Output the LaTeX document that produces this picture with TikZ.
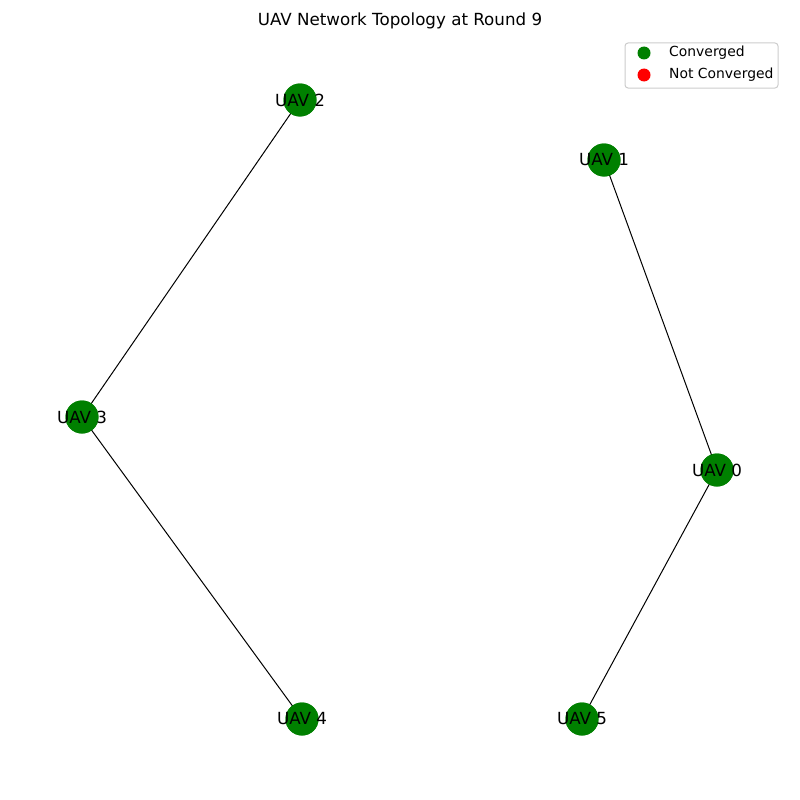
\documentclass[tikz,border=0pt]{standalone}
\usepackage{fontspec}
\setmainfont{DejaVu Sans}
\definecolor{nodegreen}{RGB}{0,128,0}
\definecolor{nodered}{RGB}{255,0,0}
\begin{document}
\begin{tikzpicture}[x=1pt,y=-1pt,
  uav/.style={circle,fill=nodegreen,minimum size=33pt,inner sep=0pt},
  lab/.style={font=\fontsize{16.7}{18}\selectfont,inner sep=0pt},
  edge/.style={draw=black,line width=1pt},
  legtext/.style={font=\fontsize{13.9}{16}\selectfont,anchor=west,inner sep=0pt},
  legdot/.style={circle,minimum size=13pt,inner sep=0pt}]
\useasboundingbox (0,0) rectangle (800,800);
\node[font=\fontsize{16.7}{20}\selectfont] (title) at (400,21) {UAV Network Topology at Round 9};
% nodes
\node[uav] (u0) at (717,470) {};
\node[uav] (u1) at (604,160) {};
\node[uav] (u2) at (300,100) {};
\node[uav] (u3) at (82,417) {};
\node[uav] (u4) at (302,719) {};
\node[uav] (u5) at (582,719) {};
\begin{scope}[on background layer/.try]
\end{scope}
% edges (drawn center to center, under nodes)
\begin{scope}
\draw[edge] (u2.center) -- (u3.center);
\draw[edge] (u3.center) -- (u4.center);
\draw[edge] (u1.center) -- (u0.center);
\draw[edge] (u0.center) -- (u5.center);
\end{scope}
% redraw nodes on top
\foreach \n in {u0,u1,u2,u3,u4,u5}{\fill[nodegreen] (\n.center) circle (16.5);}
\node[lab] at (u0) {UAV 0};
\node[lab] at (u1) {UAV 1};
\node[lab] at (u2) {UAV 2};
\node[lab] at (u3) {UAV 3};
\node[lab] at (u4) {UAV 4};
\node[lab] at (u5) {UAV 5};
% legend
\draw[draw={rgb,255:red,204;green,204;blue,204},fill=white,rounded corners=3pt,line width=1pt] (625,43) rectangle (778,88);
\node[legdot,fill=nodegreen] (lg) at (644,53) {};
\node[legdot,fill=nodered] (lr) at (644,75) {};
\node[legtext] (lgt) at (669,53) {Converged};
\node[legtext] (lrt) at (669,75) {Not Converged};
\end{tikzpicture}
\end{document}
